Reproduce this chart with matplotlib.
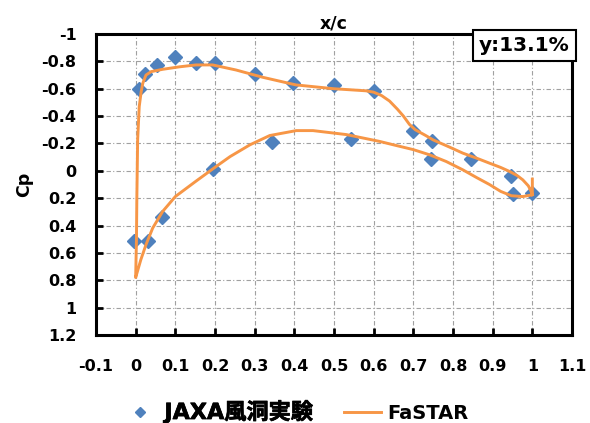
import matplotlib
matplotlib.use("Agg")
import matplotlib.pyplot as plt
import matplotlib.patheffects as pe
from matplotlib.ticker import MultipleLocator, FuncFormatter

plt.rcParams['font.family'] = ['DejaVu Sans', 'Noto Sans CJK JP']
plt.rcParams['font.weight'] = 'bold'

# wind tunnel measurements (JAXA)
exp_x = [0.009, 0.023, 0.053, 0.10, 0.152, 0.20, 0.30, 0.397, 0.50, 0.60, 0.70, 0.748, 0.846, 0.945,
         1.0, 0.95, 0.745, 0.544, 0.343, 0.195, 0.067, 0.032, -0.004]
exp_cp = [-0.60, -0.71, -0.77, -0.83, -0.786, -0.79, -0.71, -0.64, -0.63, -0.58, -0.29, -0.22, -0.085, 0.04,
          0.16, 0.17, -0.085, -0.23, -0.21, -0.01, 0.34, 0.516, 0.516]

# FaSTAR: TE stub, lower surface TE->LE, upper surface LE->TE
cfd_x = [1.0, 1.0, 0.976, 0.947, 0.92, 0.892, 0.86, 0.825, 0.783, 0.741, 0.70, 0.657, 0.615, 0.531,
         0.447, 0.405, 0.338, 0.288, 0.238, 0.202, 0.15, 0.10, 0.068, 0.043, 0.026, 0.013, 0.004, 0.0,
         0.002, 0.003, 0.005, 0.009, 0.014, 0.018, 0.026, 0.039, 0.068, 0.11, 0.152, 0.194, 0.253,
         0.32, 0.404, 0.50, 0.58, 0.60, 0.62, 0.64, 0.66, 0.675, 0.69, 0.705, 0.73, 0.75, 0.79, 0.825,
         0.86, 0.892, 0.92, 0.943, 0.962, 0.976, 0.99, 0.997, 1.0]
cfd_cp = [0.06, 0.175, 0.188, 0.182, 0.15, 0.10, 0.05, -0.007, -0.068, -0.117, -0.155, -0.185, -0.215,
          -0.265, -0.294, -0.294, -0.258, -0.19, -0.104, -0.03, 0.08, 0.188, 0.297, 0.418, 0.54, 0.65,
          0.74, 0.78, 0.5, 0.2, -0.226, -0.47, -0.58, -0.64, -0.70, -0.725, -0.742, -0.76, -0.774,
          -0.774, -0.737, -0.684, -0.628, -0.60, -0.585, -0.575, -0.55, -0.51, -0.45, -0.40, -0.34,
          -0.30, -0.26, -0.226, -0.175, -0.129, -0.092, -0.056, -0.025, 0.005, 0.035, 0.066, 0.11,
          0.151, 0.175]

fig = plt.figure(figsize=(5.9, 4.23), dpi=100)
ax = fig.add_axes([0.1627, 0.208, 0.8068, 0.7116])

ax.plot(exp_x, exp_cp, linestyle='none', marker='D', ms=7, color='#4F81BD',
        label='JAXA風洞実験', zorder=3)
ax.plot(cfd_x, cfd_cp, color='#F79646', lw=2.1, label='FaSTAR', zorder=4,
        solid_joinstyle='round')

ax.set_xlim(-0.1, 1.1)
ax.set_ylim(1.2, -1.0)
ax.xaxis.set_major_locator(MultipleLocator(0.1))
ax.yaxis.set_major_locator(MultipleLocator(0.2))
fmt = FuncFormatter(lambda v, p: f"{v:.1f}".rstrip('0').rstrip('.') if abs(v) > 1e-9 else "0")
ax.xaxis.set_major_formatter(fmt)
ax.yaxis.set_major_formatter(fmt)

ax.grid(True, color='#A0A0A0', linestyle='-.', linewidth=0.8, dashes=(4, 2, 1, 2))
ax.set_axisbelow(True)
for s in ax.spines.values():
    s.set_linewidth(2.2)
    s.set_color('black')

ax.tick_params(axis='x', direction='in', length=5, width=2, pad=17, labelsize=11.5)
ax.tick_params(axis='y', direction='in', length=5, width=2, pad=14, labelsize=11.5)
for lab in ax.get_xticklabels() + ax.get_yticklabels():
    lab.set_fontweight('bold')

ax.set_title('x/c', fontsize=12.5, fontweight='bold', pad=4)
ax.set_ylabel('Cp', fontsize=12.5, fontweight='bold', labelpad=6)

ax.text(0.995, 0.993, 'y:13.1%', transform=ax.transAxes, ha='right', va='top',
        fontsize=14.5, fontweight='bold',
        bbox=dict(boxstyle='square,pad=0.3', facecolor='white', edgecolor='black', linewidth=1.5),
        zorder=5)

leg = fig.legend(loc='center', bbox_to_anchor=(0.5, 0.027), ncol=2, frameon=False,
                 prop={'size': 14, 'weight': 'bold'}, handlelength=1.9, columnspacing=1.6,
                 handletextpad=0.3, markerscale=0.75)
jaxa_label = leg.get_texts()[0]
jaxa_label.set_fontsize(16)
jaxa_label.set_path_effects([pe.withStroke(linewidth=0.5, foreground='black')])

fig.savefig('out.png', dpi=100)
